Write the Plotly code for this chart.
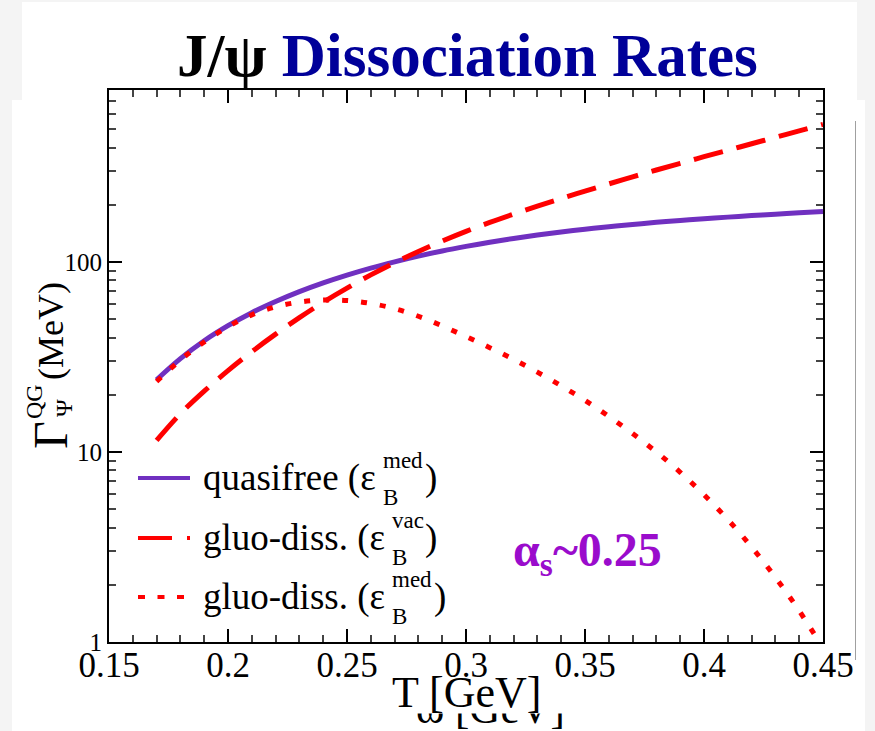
import plotly.graph_objects as go

# Temperature grid [GeV]
T = [0.17, 0.18, 0.19, 0.20, 0.21, 0.22, 0.23, 0.24, 0.25, 0.26,
     0.27, 0.28, 0.29, 0.30, 0.31, 0.32, 0.33, 0.34, 0.35, 0.36,
     0.37, 0.38, 0.39, 0.40, 0.41, 0.42, 0.43, 0.44, 0.45]

# Dissociation widths [MeV]
quasifree_med = [24.0, 31.0, 38.5, 46.2, 54.1, 61.9, 69.8, 77.6, 85.3, 92.9,
                 100.2, 107.4, 114.3, 120.8, 127.1, 133.0, 138.7, 143.9, 148.7, 153.3,
                 157.6, 161.6, 165.4, 168.9, 172.2, 175.4, 178.4, 181.3, 184.1]
gluo_vac = [11.5, 15.9, 20.9, 26.8, 33.7, 41.7, 50.9, 61.4, 72.9, 85.5,
            99.1, 113.5, 128.8, 144.9, 161.4, 178.6, 196.8, 215.8, 236.0, 257.6,
            280.5, 304.8, 330.4, 358.1, 387.3, 418.8, 452.9, 489.8, 529.6]
gluo_med = [23.5, 30.5, 37.9, 45.6, 52.7, 58.1, 61.5, 63.0, 62.7, 60.5,
            56.8, 51.8, 46.1, 40.5, 35.4, 30.7, 26.3, 22.3, 18.7, 15.4,
            12.5, 10.0, 7.82, 5.96, 4.41, 3.16, 2.19, 1.46, 0.93]

x_tick_vals = [0.15, 0.2, 0.25, 0.3, 0.35, 0.4, 0.45]
x_tick_text = ["0.15", "0.2", "0.25", "0.3", "0.35", "0.4", "0.45"]
y_tick_vals = [1, 10, 100]
y_tick_text = ["1", "10", "100"]
y_minor_vals = [m * d for d in (1, 10, 100) for m in range(2, 10)]

PURPLE = "#7030c0"
RED = "#ff0000"
SERIF = "Liberation Serif"

W, H = 875, 731
PL, PR, PT, PB = 109, 823, 90, 642


def px(x):
    return (x - PL) / (PR - PL)


def py(y):
    return (PB - y) / (PB - PT)


fig = go.Figure()
fig.add_trace(go.Scatter(x=T, y=quasifree_med, mode="lines",
                         line=dict(color=PURPLE, width=5, shape="spline"),
                         showlegend=False))
fig.add_trace(go.Scatter(x=T, y=gluo_vac, mode="lines",
                         line=dict(color=RED, width=5, dash="30px,14px", shape="spline"),
                         showlegend=False))
fig.add_trace(go.Scatter(x=T, y=gluo_med, mode="lines",
                         line=dict(color=RED, width=5, dash="6px,13px", shape="spline"),
                         showlegend=False))

shapes = []
# page background panels
shapes.append(dict(type="rect", xref="paper", yref="paper", layer="below",
                   x0=px(22), x1=px(857), y0=py(2), y1=py(101),
                   fillcolor="white", line=dict(width=0)))
shapes.append(dict(type="rect", xref="paper", yref="paper", layer="below",
                   x0=px(12), x1=px(865), y0=py(100), y1=py(731),
                   fillcolor="white", line=dict(width=0)))
shapes.append(dict(type="line", xref="paper", yref="paper", layer="below",
                   x0=px(855.5), x1=px(855.5), y0=py(121), y1=py(660),
                   line=dict(color="#a0a0a0", width=1)))

# legend samples
leg_rows = [478, 538, 597]
leg_styles = [(PURPLE, "solid"), (RED, "34px,15px"), (RED, "7px,12.5px")]
for yy, (col, dash) in zip(leg_rows, leg_styles):
    shapes.append(dict(type="line", xref="paper", yref="paper",
                       x0=px(138), x1=px(190), y0=py(yy), y1=py(yy),
                       line=dict(color=col, width=4, dash=dash)))

ann = []


def text(x, y, s, size, color="black", xanchor="left", angle=0, **kw):
    d = dict(xref="paper", yref="paper", x=px(x), y=py(y), text=s,
             showarrow=False, xanchor=xanchor, yanchor="middle",
             textangle=angle, font=dict(family=SERIF, size=size, color=color))
    d.update(kw)
    ann.append(d)


# title
text(467, 55, "<b>J/ψ <span style='color:#000099'>Dissociation Rates</span></b>",
     61, xanchor="center")

# y-axis title
text(50, 435, "Γ", 48, xanchor="center", angle=-90)
text(34, 402, "QG", 24, xanchor="center", angle=-90)
text(64, 408, "Ψ", 24, xanchor="center", angle=-90)
text(51, 331, "(MeV)", 36, xanchor="center", angle=-90)

# x-axis title (with the older label peeking out underneath)
text(490, 708, "ω [GeV]", 43, xanchor="center")
text(490, 699, " ", 10, xanchor="center", bgcolor="white",
     width=200, height=28, borderpad=0)
text(466, 692, "T [GeV]", 44, xanchor="center")

# legend text
labels = [("quasifree (ε", "med", 381, 423),
          ("gluo-diss. (ε", "vac", 390, 423),
          ("gluo-diss. (ε", "med", 390, 432)]
for yy, (main, sup, xs, xp) in zip(leg_rows, labels):
    text(201, yy, main, 37)
    text(xs, yy + 19, "B", 23)
    text(xs, yy - 18, sup, 23)
    text(xp, yy, ")", 37)

# coupling label
text(511, 553, "<b>α<sub>s</sub>~0.25</b>", 48, color="#9a0ccc")

fig.update_layout(
    width=W, height=H,
    margin=dict(l=PL, r=W - PR, t=PT, b=H - PB, pad=0),
    paper_bgcolor="#f4f4f4", plot_bgcolor="white",
    shapes=shapes, annotations=ann, showlegend=False,
    font=dict(family=SERIF, color="black"),
)
fig.update_xaxes(
    range=[0.15, 0.45], tickmode="array", tickvals=x_tick_vals, ticktext=x_tick_text,
    ticks="inside", ticklen=13, tickwidth=1.5, tickcolor="black",
    minor=dict(ticks="inside", ticklen=7, tickwidth=1.5, tickcolor="#444",
               dtick=0.01, tick0=0.15),
    showline=True, linewidth=2, linecolor="black", mirror="ticks",
    showgrid=False, zeroline=False, ticklabelstandoff=-9,
    tickfont=dict(family=SERIF, size=35, color="black"),
)
fig.update_yaxes(
    type="log", range=[0, 2.905], tickmode="array", tickvals=y_tick_vals, ticktext=y_tick_text,
    ticks="inside", ticklen=13, tickwidth=1.5, tickcolor="black",
    minor=dict(ticks="inside", ticklen=7, tickwidth=1.5, tickcolor="#444",
               tickmode="array", tickvals=y_minor_vals),
    showline=True, linewidth=2, linecolor="black", mirror="ticks",
    showgrid=False, zeroline=False,
    tickfont=dict(family=SERIF, size=25, color="black"),
)

fig.write_html("out.html")
